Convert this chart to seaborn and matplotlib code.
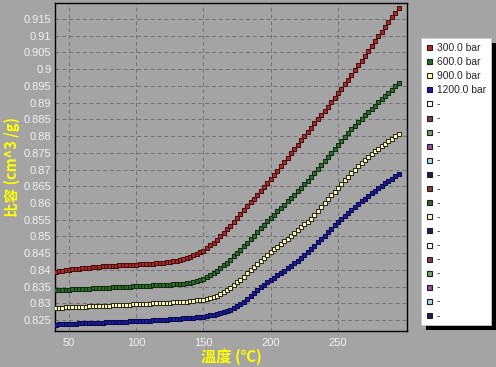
import matplotlib
matplotlib.use('Agg')
import matplotlib.pyplot as plt
import seaborn as sns
import pandas as pd
from matplotlib.lines import Line2D
from matplotlib.patches import Rectangle

# ---------------- data ----------------
temps = [
    40.0, 42.5, 45.0, 47.5, 50.0, 52.5, 55.0, 57.5, 60.0, 62.5, 65.0, 67.5,
    70.0, 72.5, 75.0, 77.5, 80.0, 82.5, 85.0, 87.5, 90.0, 92.5, 95.0, 97.5,
    100.0, 102.5, 105.0, 107.5, 110.0, 112.5, 115.0, 117.5, 120.0, 122.5, 125.0, 127.5,
    130.0, 132.5, 135.0, 137.5, 140.0, 142.5, 145.0, 147.5, 150.0, 152.5, 155.0, 157.5,
    160.0, 162.5, 165.0, 167.5, 170.0, 172.5, 175.0, 177.5, 180.0, 182.5, 185.0, 187.5,
    190.0, 192.5, 195.0, 197.5, 200.0, 202.5, 205.0, 207.5, 210.0, 212.5, 215.0, 217.5,
    220.0, 222.5, 225.0, 227.5, 230.0, 232.5, 235.0, 237.5, 240.0, 242.5, 245.0, 247.5,
    250.0, 252.5, 255.0, 257.5, 260.0, 262.5, 265.0, 267.5, 270.0, 272.5, 275.0, 277.5,
    280.0, 282.5, 285.0, 287.5, 290.0, 292.5, 295.0,
]

v300 = [
    0.8394, 0.8396, 0.8397, 0.8399, 0.8400, 0.8401, 0.8402, 0.8403,
    0.8404, 0.8405, 0.8406, 0.8407, 0.8408, 0.8409, 0.8410, 0.8410,
    0.8411, 0.8412, 0.8412, 0.8413, 0.8413, 0.8414, 0.8414, 0.8415,
    0.8415, 0.8416, 0.8416, 0.8417, 0.8417, 0.8418, 0.8419, 0.8419,
    0.8420, 0.8422, 0.8423, 0.8425, 0.8426, 0.8429, 0.8432, 0.8435,
    0.8438, 0.8443, 0.8447, 0.8452, 0.8456, 0.8464, 0.8473, 0.8481,
    0.8489, 0.8500, 0.8511, 0.8521, 0.8532, 0.8544, 0.8555, 0.8567,
    0.8578, 0.8590, 0.8602, 0.8613, 0.8625, 0.8637, 0.8649, 0.8660,
    0.8672, 0.8685, 0.8697, 0.8710, 0.8722, 0.8735, 0.8748, 0.8761,
    0.8774, 0.8787, 0.8800, 0.8812, 0.8825, 0.8838, 0.8850, 0.8863,
    0.8875, 0.8888, 0.8902, 0.8915, 0.8928, 0.8942, 0.8956, 0.8969,
    0.8983, 0.8997, 0.9012, 0.9026, 0.9040, 0.9055, 0.9069, 0.9084,
    0.9098, 0.9112, 0.9127, 0.9141, 0.9155, 0.9169, 0.9183,
]

v600 = [
    0.8339, 0.8340, 0.8340, 0.8341, 0.8341, 0.8342, 0.8342, 0.8343,
    0.8343, 0.8344, 0.8344, 0.8345, 0.8345, 0.8346, 0.8346, 0.8347,
    0.8347, 0.8348, 0.8348, 0.8349, 0.8349, 0.8350, 0.8350, 0.8351,
    0.8351, 0.8352, 0.8352, 0.8353, 0.8353, 0.8354, 0.8354, 0.8355,
    0.8355, 0.8356, 0.8356, 0.8357, 0.8357, 0.8358, 0.8359, 0.8360,
    0.8361, 0.8364, 0.8367, 0.8370, 0.8373, 0.8379, 0.8384, 0.8390,
    0.8395, 0.8404, 0.8413, 0.8421, 0.8430, 0.8440, 0.8450, 0.8460,
    0.8470, 0.8481, 0.8492, 0.8502, 0.8513, 0.8524, 0.8534, 0.8545,
    0.8555, 0.8565, 0.8575, 0.8585, 0.8595, 0.8605, 0.8615, 0.8625,
    0.8635, 0.8646, 0.8657, 0.8667, 0.8678, 0.8690, 0.8701, 0.8713,
    0.8724, 0.8736, 0.8748, 0.8760, 0.8772, 0.8784, 0.8796, 0.8808,
    0.8820, 0.8831, 0.8841, 0.8852, 0.8862, 0.8872, 0.8882, 0.8891,
    0.8901, 0.8911, 0.8920, 0.8930, 0.8939, 0.8949, 0.8958,
]

v900 = [
    0.8286, 0.8287, 0.8287, 0.8288, 0.8288, 0.8289, 0.8289, 0.8290,
    0.8290, 0.8290, 0.8291, 0.8291, 0.8291, 0.8292, 0.8292, 0.8293,
    0.8293, 0.8294, 0.8294, 0.8295, 0.8295, 0.8296, 0.8296, 0.8297,
    0.8297, 0.8298, 0.8298, 0.8299, 0.8299, 0.8300, 0.8300, 0.8301,
    0.8301, 0.8302, 0.8302, 0.8303, 0.8303, 0.8304, 0.8305, 0.8305,
    0.8306, 0.8307, 0.8309, 0.8310, 0.8311, 0.8314, 0.8317, 0.8319,
    0.8322, 0.8328, 0.8334, 0.8339, 0.8345, 0.8354, 0.8363, 0.8371,
    0.8380, 0.8390, 0.8399, 0.8409, 0.8418, 0.8427, 0.8436, 0.8444,
    0.8453, 0.8461, 0.8469, 0.8477, 0.8485, 0.8493, 0.8502, 0.8510,
    0.8518, 0.8527, 0.8536, 0.8544, 0.8553, 0.8565, 0.8577, 0.8588,
    0.8600, 0.8611, 0.8623, 0.8634, 0.8645, 0.8656, 0.8668, 0.8679,
    0.8690, 0.8700, 0.8709, 0.8719, 0.8728, 0.8737, 0.8745, 0.8754,
    0.8762, 0.8770, 0.8777, 0.8785, 0.8792, 0.8799, 0.8805,
]

v1200 = [
    0.8236, 0.8237, 0.8237, 0.8238, 0.8238, 0.8239, 0.8239, 0.8240,
    0.8240, 0.8240, 0.8241, 0.8241, 0.8241, 0.8242, 0.8242, 0.8243,
    0.8243, 0.8244, 0.8244, 0.8245, 0.8245, 0.8245, 0.8246, 0.8246,
    0.8246, 0.8247, 0.8247, 0.8248, 0.8248, 0.8249, 0.8249, 0.8250,
    0.8250, 0.8251, 0.8252, 0.8252, 0.8253, 0.8254, 0.8255, 0.8255,
    0.8256, 0.8257, 0.8258, 0.8259, 0.8260, 0.8262, 0.8264, 0.8266,
    0.8268, 0.8271, 0.8275, 0.8278, 0.8281, 0.8287, 0.8293, 0.8299,
    0.8305, 0.8314, 0.8323, 0.8331, 0.8340, 0.8348, 0.8355, 0.8363,
    0.8370, 0.8377, 0.8384, 0.8390, 0.8397, 0.8404, 0.8412, 0.8419,
    0.8426, 0.8435, 0.8444, 0.8453, 0.8462, 0.8472, 0.8482, 0.8492,
    0.8502, 0.8512, 0.8523, 0.8533, 0.8543, 0.8552, 0.8562, 0.8571,
    0.8580, 0.8588, 0.8597, 0.8605, 0.8613, 0.8621, 0.8629, 0.8636,
    0.8644, 0.8651, 0.8659, 0.8666, 0.8673, 0.8681, 0.8688,
]

series_labels = ['300.0 bar', '600.0 bar', '900.0 bar', '1200.0 bar']
series_face = ['#a32c2c', '#2f6a2f', '#ffffc8', '#1c1c96']
series_edge = ['#4a0e0e', '#0f2f0f', '#2a2a18', '#0a0a50']

extra_labels = ['-'] * 16
extra_face = ['#ffffff', '#8a3a4a', '#6aaa6a', '#a04aa0', '#a8e0e0', '#1e1e50',
              '#8a3a3a', '#3a603a', '#ffffc0', '#1e1e60',
              '#ffffff', '#8a3a4a', '#6aaa6a', '#a04aa0', '#a8e0e0', '#1e1e50']

x_ticks = [50, 100, 150, 200, 250]
y_ticks = [0.825, 0.83, 0.835, 0.84, 0.845, 0.85, 0.855, 0.86, 0.865,
           0.87, 0.875, 0.88, 0.885, 0.89, 0.895, 0.9, 0.905, 0.91, 0.915]
y_tick_labels = ['0.825', '0.83', '0.835', '0.84', '0.845', '0.85', '0.855',
                 '0.86', '0.865', '0.87', '0.875', '0.88', '0.885', '0.89',
                 '0.895', '0.9', '0.905', '0.91', '0.915']

x_label = '溫度 (℃)'
y_label = '比容 (cm^3 /g)'

# ---------------- style ----------------
BG = '#a4a4a4'
sns.set_theme(style='white')
plt.rcParams['font.family'] = ['Liberation Sans', 'DejaVu Sans']
cjk = ['Noto Sans CJK TC', 'DejaVu Sans']

W, H = 496, 367
fig = plt.figure(figsize=(W / 100, H / 100), dpi=100, facecolor=BG)
L, R, T, B = 55, 407, 3, 331
ax = fig.add_axes([L / W, 1 - B / H, (R - L) / W, (B - T) / H])
ax.set_facecolor(BG)

df = pd.DataFrame({'T': temps * 4,
                   'v': v300 + v600 + v900 + v1200,
                   'p': sum([[lab] * len(temps) for lab in series_labels], [])})

for lab, fc, ec in zip(series_labels, series_face, series_edge):
    sub = df[df['p'] == lab]
    sns.scatterplot(data=sub, x='T', y='v', marker='s', s=11, color=fc,
                    edgecolor=ec, linewidth=0.75, ax=ax, legend=False, zorder=3)

ax.set_xlim(39.6, 301.3)
ax.set_ylim(0.8217, 0.9198)
ax.set_xticks(x_ticks)
ax.set_yticks(y_ticks)
ax.set_yticklabels(y_tick_labels)
ax.grid(True, color='#727272', linestyle=(0, (4, 3)), linewidth=0.7)
ax.set_axisbelow(True)
ax.tick_params(axis='both', length=0, labelsize=8, colors='#f0f0f0')
ax.tick_params(axis='y', pad=2.5)
ax.tick_params(axis='x', pad=5)
for s in ax.spines.values():
    s.set_color('black')
    s.set_linewidth(1.0)

ax.set_xlabel(x_label, color='#ffff00', fontsize=11, fontweight='bold', family=cjk)
ax.set_ylabel(y_label, color='#ffff00', fontsize=10.5, fontweight='bold', family=cjk)
ax.xaxis.set_label_coords(0.5, -0.052)
ax.yaxis.set_label_coords(-0.10, 0.5)

handles = []
for fc, ec in zip(series_face, series_edge):
    handles.append(Line2D([], [], marker='s', linestyle='none', markersize=3.6,
                          markerfacecolor=fc, markeredgecolor=ec, markeredgewidth=0.8))
for fc in extra_face:
    handles.append(Line2D([], [], marker='s', linestyle='none', markersize=3.6,
                          markerfacecolor=fc, markeredgecolor='#202020', markeredgewidth=0.8))
labels = series_labels + extra_labels

leg = fig.legend(handles, labels, loc='upper left',
                 bbox_to_anchor=(421 / W, 1 - 38 / H), bbox_transform=fig.transFigure,
                 fontsize=7.4, labelspacing=0.40, handlelength=0.6, handletextpad=0.5,
                 borderpad=0.45, borderaxespad=0, frameon=True, fancybox=False,
                 facecolor='white', edgecolor='#c8c8c8', framealpha=1)
leg.get_frame().set_linewidth(0.6)
leg.set_zorder(10)

fig.canvas.draw()
bb = leg.get_window_extent()
inv = fig.transFigure.inverted()
(x0, y0), (x1, y1) = inv.transform([(bb.x0 + 5, bb.y0 - 5), (bb.x1 + 5, bb.y1 - 5)])
fig.patches.append(Rectangle((x0, y0), x1 - x0, y1 - y0, transform=fig.transFigure,
                             facecolor='black', edgecolor='none', zorder=9))

fig.savefig('out.png', dpi=100, facecolor=BG)
